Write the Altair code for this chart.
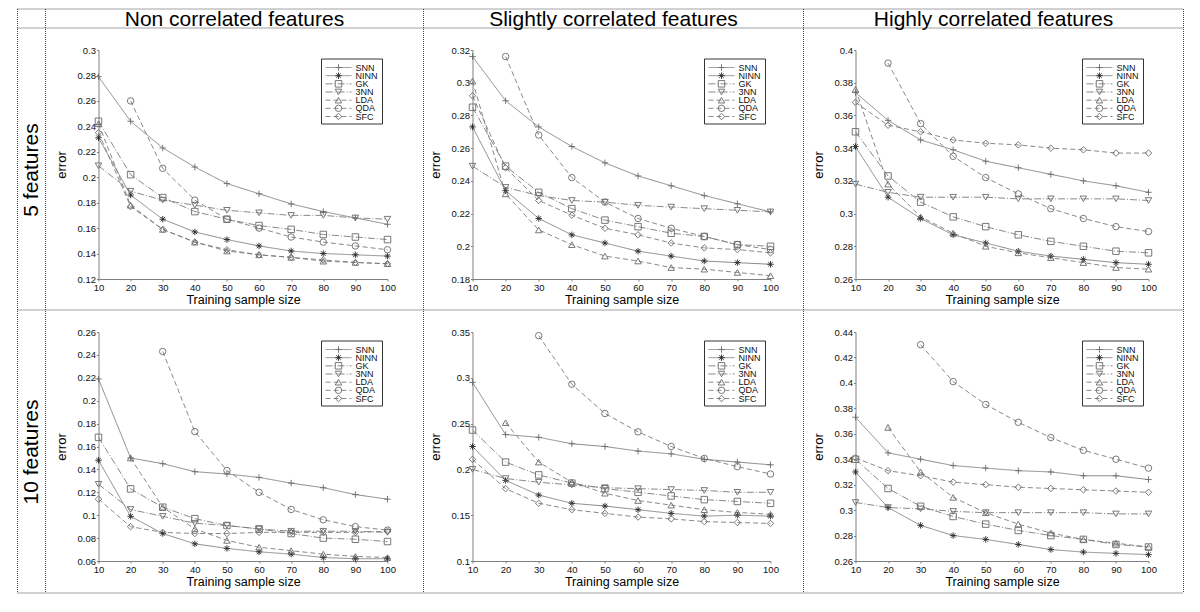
import altair as alt
import pandas as pd

FONT = "Liberation Sans"

N = [10, 20, 30, 40, 50, 60, 70, 80, 90, 100]
SERIES = ["SNN", "NINN", "GK", "3NN", "LDA", "QDA", "SFC"]
COLUMN_TITLES = ["Non correlated features", "Slightly correlated features", "Highly correlated features"]
ROW_TITLES = ["5 features", "10 features"]

P5_NONCORR = {
    "SNN":  [0.279, 0.244, 0.223, 0.208, 0.195, 0.187, 0.179, 0.173, 0.168, 0.163],
    "NINN": [0.231, 0.186, 0.167, 0.157, 0.151, 0.146, 0.142, 0.140, 0.139, 0.138],
    "GK":   [0.244, 0.202, 0.184, 0.173, 0.167, 0.162, 0.159, 0.155, 0.153, 0.151],
    "3NN":  [0.209, 0.189, 0.182, 0.178, 0.174, 0.172, 0.170, 0.170, 0.168, 0.167],
    "LDA":  [0.242, 0.178, 0.159, 0.149, 0.142, 0.139, 0.137, 0.134, 0.133, 0.132],
    "QDA":  [None, 0.260, 0.207, 0.182, 0.167, 0.160, 0.153, 0.149, 0.146, 0.143],
    "SFC":  [0.235, 0.177, 0.159, 0.149, 0.143, 0.139, 0.137, 0.135, 0.133, 0.132],
}
P5_SLIGHT = {
    "SNN":  [0.316, 0.289, 0.273, 0.261, 0.251, 0.243, 0.237, 0.231, 0.226, 0.221],
    "NINN": [0.273, 0.234, 0.217, 0.207, 0.202, 0.197, 0.194, 0.191, 0.190, 0.189],
    "GK":   [0.285, 0.249, 0.233, 0.223, 0.216, 0.212, 0.208, 0.206, 0.201, 0.200],
    "3NN":  [0.249, 0.236, 0.231, 0.228, 0.227, 0.225, 0.224, 0.223, 0.222, 0.221],
    "LDA":  [0.301, 0.232, 0.210, 0.201, 0.194, 0.191, 0.187, 0.186, 0.184, 0.182],
    "QDA":  [None, 0.316, 0.268, 0.242, 0.227, 0.217, 0.211, 0.206, 0.201, 0.198],
    "SFC":  [0.292, 0.248, 0.228, 0.219, 0.211, 0.207, 0.202, 0.199, 0.198, 0.196],
}
P5_HIGH = {
    "SNN":  [0.374, 0.357, 0.345, 0.339, 0.332, 0.328, 0.324, 0.320, 0.317, 0.313],
    "NINN": [0.341, 0.310, 0.297, 0.287, 0.282, 0.277, 0.274, 0.272, 0.270, 0.269],
    "GK":   [0.350, 0.323, 0.307, 0.298, 0.292, 0.287, 0.283, 0.280, 0.277, 0.276],
    "3NN":  [0.318, 0.313, 0.310, 0.310, 0.310, 0.309, 0.309, 0.309, 0.309, 0.308],
    "LDA":  [0.376, 0.318, 0.298, 0.288, 0.280, 0.276, 0.273, 0.270, 0.267, 0.266],
    "QDA":  [None, 0.392, 0.355, 0.335, 0.322, 0.312, 0.303, 0.297, 0.292, 0.289],
    "SFC":  [0.368, 0.354, 0.350, 0.345, 0.343, 0.342, 0.340, 0.339, 0.337, 0.337],
}
P10_NONCORR = {
    "SNN":  [0.219, 0.150, 0.145, 0.138, 0.136, 0.133, 0.128, 0.124, 0.118, 0.114],
    "NINN": [0.148, 0.099, 0.084, 0.075, 0.071, 0.068, 0.066, 0.063, 0.062, 0.062],
    "GK":   [0.168, 0.123, 0.107, 0.097, 0.091, 0.088, 0.084, 0.080, 0.079, 0.077],
    "3NN":  [0.127, 0.105, 0.099, 0.093, 0.091, 0.088, 0.086, 0.086, 0.086, 0.085],
    "LDA":  [None, 0.150, 0.107, 0.088, 0.078, 0.072, 0.069, 0.066, 0.064, 0.063],
    "QDA":  [None, None, 0.243, 0.173, 0.139, 0.120, 0.105, 0.096, 0.090, 0.087],
    "SFC":  [0.114, 0.090, 0.085, 0.084, 0.084, 0.085, 0.085, 0.085, 0.085, 0.086],
}
P10_SLIGHT = {
    "SNN":  [0.295, 0.238, 0.235, 0.228, 0.225, 0.220, 0.217, 0.211, 0.208, 0.205],
    "NINN": [0.225, 0.188, 0.172, 0.163, 0.160, 0.156, 0.152, 0.149, 0.150, 0.149],
    "GK":   [0.243, 0.208, 0.194, 0.185, 0.179, 0.175, 0.171, 0.167, 0.165, 0.163],
    "3NN":  [0.200, 0.190, 0.186, 0.183, 0.180, 0.179, 0.178, 0.177, 0.175, 0.175],
    "LDA":  [None, 0.251, 0.208, 0.186, 0.174, 0.166, 0.161, 0.156, 0.153, 0.151],
    "QDA":  [None, None, 0.346, 0.293, 0.261, 0.241, 0.225, 0.212, 0.203, 0.195],
    "SFC":  [0.211, 0.179, 0.163, 0.156, 0.152, 0.148, 0.146, 0.143, 0.142, 0.141],
}
P10_HIGH = {
    "SNN":  [0.373, 0.345, 0.340, 0.335, 0.333, 0.331, 0.330, 0.327, 0.327, 0.324],
    "NINN": [0.330, 0.302, 0.288, 0.280, 0.277, 0.273, 0.269, 0.267, 0.266, 0.265],
    "GK":   [0.340, 0.317, 0.303, 0.295, 0.289, 0.284, 0.280, 0.277, 0.273, 0.271],
    "3NN":  [0.306, 0.302, 0.301, 0.299, 0.298, 0.298, 0.298, 0.298, 0.297, 0.297],
    "LDA":  [None, 0.365, 0.330, 0.310, 0.298, 0.289, 0.282, 0.277, 0.274, 0.271],
    "QDA":  [None, None, 0.430, 0.401, 0.383, 0.369, 0.357, 0.347, 0.340, 0.333],
    "SFC":  [0.341, 0.331, 0.327, 0.322, 0.320, 0.318, 0.317, 0.316, 0.315, 0.314],
}

Y_DOMAINS = [[0.12, 0.30], [0.18, 0.32], [0.26, 0.40], [0.06, 0.26], [0.10, 0.35], [0.26, 0.44]]
Y_TICKS = [
    [0.12, 0.14, 0.16, 0.18, 0.20, 0.22, 0.24, 0.26, 0.28, 0.30],
    [0.18, 0.20, 0.22, 0.24, 0.26, 0.28, 0.30, 0.32],
    [0.26, 0.28, 0.30, 0.32, 0.34, 0.36, 0.38, 0.40],
    [0.06, 0.08, 0.10, 0.12, 0.14, 0.16, 0.18, 0.20, 0.22, 0.24, 0.26],
    [0.10, 0.15, 0.20, 0.25, 0.30, 0.35],
    [0.26, 0.28, 0.30, 0.32, 0.34, 0.36, 0.38, 0.40, 0.42, 0.44],
]
PANELS = [P5_NONCORR, P5_SLIGHT, P5_HIGH, P10_NONCORR, P10_SLIGHT, P10_HIGH]

WIDTHS = [289, 298, 293]
HEIGHT = 229
LINE_GREY = "#7c7c7c"

PLUS = "M-1,0L1,0M0,-1L0,1"
STAR = "M-1,0L1,0M0,-1L0,1M-0.7,-0.7L0.7,0.7M-0.7,0.7L0.7,-0.7"
shape_scale = alt.Scale(domain=SERIES, range=[PLUS, STAR, "square", "triangle-down", "triangle-up", "circle", "diamond"])
dash_scale = alt.Scale(domain=SERIES, range=[[1, 0], [1, 0], [7, 2, 1, 2], [7, 2, 1, 2], [5, 3], [5, 3], [5, 3]])
stroke_scale = alt.Scale(domain=SERIES, range=["#6a6a6a", "#2a2a2a", "#6a6a6a", "#6a6a6a", "#6a6a6a", "#6a6a6a", "#6a6a6a"])
one_row = pd.DataFrame({"k": [0]})


def panel(idx):
    values = PANELS[idx]
    width = WIDTHS[idx % 3]
    rows = []
    for s in SERIES:
        for n, v in zip(N, values[s]):
            if v is not None:
                rows.append({"n": n, "err": v, "series": s})
    df = pd.DataFrame(rows)
    base = alt.Chart(df)
    x = alt.X("n:Q", scale=alt.Scale(domain=[10, 100], nice=False, zero=False),
              axis=alt.Axis(values=N, title="Training sample size", labelFlush=False,
                            labelOverlap=False, tickSize=2, labelPadding=1, titlePadding=2))
    y = alt.Y("err:Q", scale=alt.Scale(domain=Y_DOMAINS[idx], nice=False, zero=False),
              axis=alt.Axis(values=Y_TICKS[idx], format=".2~f", title="error", labelFlush=False,
                            labelOverlap=False, tickSize=2, labelPadding=1, titlePadding=9))
    shape = alt.Shape("series:N", scale=shape_scale, legend=None)
    dash = alt.StrokeDash("series:N", scale=dash_scale, legend=None)
    stroke = alt.Stroke("series:N", scale=stroke_scale, legend=None)

    lines = base.mark_line(strokeWidth=0.9, color=LINE_GREY).encode(x=x, y=y, strokeDash=dash, detail="series:N")
    pts = base.mark_point(filled=False, size=42, strokeWidth=0.9, opacity=1).encode(x=x, y=y, shape=shape, stroke=stroke)
    data_layer = alt.layer(lines, pts)

    bx = width - 66
    leg_y = alt.Y("series:N", scale=alt.Scale(type="point", domain=SERIES, range=[17.5, 66.5], padding=0), axis=None)
    leg = alt.Chart(pd.DataFrame({"series": SERIES}))
    box = alt.Chart(one_row).mark_rect(fill="white", stroke="black", strokeWidth=0.8).encode(
        x=alt.value(bx), x2=alt.value(bx + 61), y=alt.value(9), y2=alt.value(74))
    samples = leg.mark_rule(strokeWidth=0.9, color=LINE_GREY).encode(
        x=alt.value(bx + 4), x2=alt.value(bx + 30), y=leg_y, strokeDash=dash)
    legpts = leg.mark_point(filled=False, size=42, strokeWidth=0.9, opacity=1).encode(
        x=alt.value(bx + 17), y=leg_y, shape=shape, stroke=stroke)
    legtxt = leg.mark_text(align="left", baseline="middle", fontSize=9, font=FONT, color="#111").encode(
        x=alt.value(bx + 34), y=leg_y, text="series:N")
    legend_layer = alt.layer(box, samples, legpts, legtxt)

    layers = [data_layer, legend_layer]

    if idx % 3 == 0:
        layers.append(alt.Chart(one_row).mark_text(
            text=ROW_TITLES[idx // 3], angle=270, fontSize=21, font=FONT, align="center",
            baseline="middle", color="black").encode(x=alt.value(-67), y=alt.value(120)))

    if idx == 0:
        border = dict(color="#444", strokeWidth=1, strokeDash=[1, 1])
        for xv in [-81, -53, 325, 705, 1085]:
            layers.append(alt.Chart(one_row).mark_rule(**border).encode(
                x=alt.value(xv), y=alt.value(-41), y2=alt.value(543)))
        for yv in [-41, -22, 260, 543]:
            layers.append(alt.Chart(one_row).mark_rule(**border).encode(
                y=alt.value(yv), x=alt.value(-81), x2=alt.value(1085)))
        for title, xc in zip(COLUMN_TITLES, [136, 515, 895]):
            layers.append(alt.Chart(one_row).mark_text(
                text=title, fontSize=21, font=FONT, align="center", baseline="alphabetic",
                color="black").encode(x=alt.value(xc), y=alt.value(-24.5)))

    return alt.layer(*layers).resolve_scale(y="independent").properties(width=width, height=HEIGHT)


chart = alt.concat(
    *[panel(i) for i in range(6)],
    columns=3,
    spacing={"row": 53, "column": 85},
    bounds="flush",
    align="each",
).properties(
    padding={"left": 8.5, "top": 0, "right": 5, "bottom": 5}
).configure_view(
    stroke=None
).configure_axis(
    grid=False,
    domainColor="#808080",
    tickColor="#808080",
    labelColor="#111",
    titleColor="black",
    labelFont=FONT,
    titleFont=FONT,
    labelFontSize=9.5,
    titleFontSize=13,
    titleFontWeight="normal",
).configure_axisX(
    titleFontSize=12.5
)

chart.save("out.html", embed_options={"renderer": "svg", "actions": False})
